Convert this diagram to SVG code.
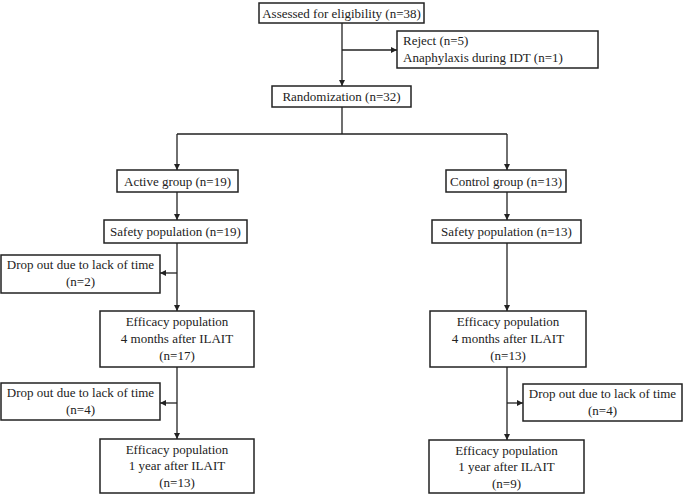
<svg xmlns="http://www.w3.org/2000/svg" width="685" height="494" viewBox="0 0 685 494">
<style>
.box{fill:#fff;stroke:#222;stroke-width:1.5}
.t{font-family:"Liberation Serif","Times New Roman",serif;font-size:13px;fill:#222;text-anchor:middle}
.tl{text-anchor:start}
.c{fill:none;stroke:#222;stroke-width:1.3}
</style>
<defs>
<marker id="ah" viewBox="0 0 10 10" refX="10" refY="5" markerWidth="6" markerHeight="6" markerUnits="userSpaceOnUse" orient="auto">
<path d="M0,0 L10,5 L0,10 z" fill="#222"/>
</marker>
</defs>
<rect width="685" height="494" fill="#fff"/>
<g id="connectors">
<path class="c" d="M342,23 V86" marker-end="url(#ah)"/>
<path class="c" d="M342,50 H397" marker-end="url(#ah)"/>
<path class="c" d="M342,107 V134 M177,134 H507"/>
<path class="c" d="M177,134 V170" marker-end="url(#ah)"/>
<path class="c" d="M507,134 V170" marker-end="url(#ah)"/>
<path class="c" d="M177,192 V220" marker-end="url(#ah)"/>
<path class="c" d="M507,192 V220" marker-end="url(#ah)"/>
<path class="c" d="M177,243 V311" marker-end="url(#ah)"/>
<path class="c" d="M177,273 H160" marker-end="url(#ah)"/>
<path class="c" d="M507,243 V311" marker-end="url(#ah)"/>
<path class="c" d="M177,367 V439" marker-end="url(#ah)"/>
<path class="c" d="M177,403 H160" marker-end="url(#ah)"/>
<path class="c" d="M507,367 V440" marker-end="url(#ah)"/>
<path class="c" d="M507,403 H523" marker-end="url(#ah)"/>
</g>
<g id="assessed"><rect class="box" x="259" y="3" width="165" height="20"/><text class="t" x="341.5" y="18">Assessed for eligibility (n=38)</text></g>
<g id="reject"><rect class="box" x="397" y="31" width="201" height="37"/><text class="t tl" x="403" y="45">Reject (n=5)</text><text class="t tl" x="403" y="62">Anaphylaxis during IDT (n=1)</text></g>
<g id="randomization"><rect class="box" x="272" y="86" width="139" height="21"/><text class="t" x="341.5" y="101">Randomization (n=32)</text></g>
<g id="active"><rect class="box" x="117" y="170" width="121" height="22"/><text class="t" x="177.5" y="186">Active group (n=19)</text></g>
<g id="control"><rect class="box" x="446" y="170" width="120" height="22"/><text class="t" x="506" y="186">Control group (n=13)</text></g>
<g id="safety-active"><rect class="box" x="104" y="220" width="143" height="23"/><text class="t" x="175.5" y="236">Safety population (n=19)</text></g>
<g id="safety-control"><rect class="box" x="432" y="220" width="149" height="23"/><text class="t" x="506.5" y="236">Safety population (n=13)</text></g>
<g id="dropout-active-1"><rect class="box" x="1" y="255" width="159" height="38"/><text class="t" x="80.5" y="269">Drop out due to lack of time</text><text class="t" x="80.5" y="286">(n=2)</text></g>
<g id="efficacy-active-4m"><rect class="box" x="100" y="311" width="154" height="56"/><text class="t" x="177" y="326">Efficacy population</text><text class="t" x="177" y="343">4 months after ILAIT</text><text class="t" x="177" y="360">(n=17)</text></g>
<g id="efficacy-control-4m"><rect class="box" x="430" y="311" width="156" height="56"/><text class="t" x="508" y="326">Efficacy population</text><text class="t" x="508" y="343">4 months after ILAIT</text><text class="t" x="508" y="360">(n=13)</text></g>
<g id="dropout-active-2"><rect class="box" x="1" y="383" width="159" height="37"/><text class="t" x="80.5" y="397">Drop out due to lack of time</text><text class="t" x="80.5" y="414">(n=4)</text></g>
<g id="dropout-control"><rect class="box" x="523" y="384" width="159" height="37"/><text class="t" x="602.5" y="398">Drop out due to lack of time</text><text class="t" x="602.5" y="415">(n=4)</text></g>
<g id="efficacy-active-1y"><rect class="box" x="100" y="439" width="154" height="54"/><text class="t" x="177" y="454">Efficacy population</text><text class="t" x="177" y="470">1 year after ILAIT</text><text class="t" x="177" y="487">(n=13)</text></g>
<g id="efficacy-control-1y"><rect class="box" x="429" y="440" width="155" height="53"/><text class="t" x="506.5" y="455">Efficacy population</text><text class="t" x="506.5" y="471">1 year after ILAIT</text><text class="t" x="506.5" y="488">(n=9)</text></g>
</svg>
